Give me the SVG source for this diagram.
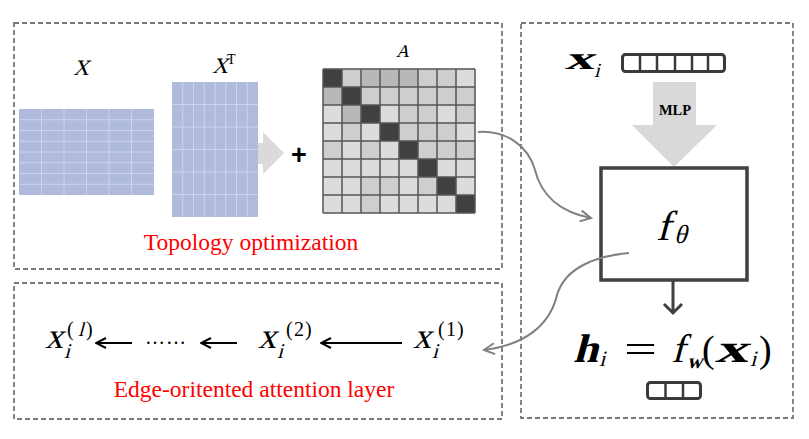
<svg xmlns="http://www.w3.org/2000/svg" width="809" height="439" viewBox="0 0 809 439">
<style>
.frame{fill:none;stroke:#7d7671;stroke-width:1.8;stroke-dasharray:5 3}
.mat{fill:#b0badd}
.mgrid{stroke:#cdd3ec;stroke-width:1;fill:none}
.agrid{stroke:#555;stroke-width:1.5;fill:none}
.d{fill:#404040}.m2{fill:#cecece}.m3{fill:#b8b8b8}
.serif{font-family:"Liberation Serif","Times New Roman",serif}
.b{font-weight:bold}
.red{fill:#ff0000;font-family:"Liberation Serif","Times New Roman",serif;font-size:23.5px}
.vec{fill:#fff;stroke:#3a3a3a;stroke-width:3}
.vdiv{stroke:#3a3a3a;stroke-width:2.5}
.conn{fill:none;stroke:#808080;stroke-width:2}
.blk{fill:none;stroke:#000;stroke-width:2}
</style>
<defs>
<marker id="gchev" viewBox="0 0 14 14" refX="12" refY="7" markerWidth="14" markerHeight="14" orient="auto" markerUnits="userSpaceOnUse">
<path d="M1.5,1.5 L12,7 L1.5,12.5" fill="none" stroke="#808080" stroke-width="2"/>
</marker>
<marker id="bchev" viewBox="0 0 12 12" refX="11" refY="6" markerWidth="12" markerHeight="12" orient="auto" markerUnits="userSpaceOnUse">
<path d="M1,1 L11,6 L1,11" fill="none" stroke="#000" stroke-width="2"/>
</marker>
</defs>
<rect width="809" height="439" fill="#fff"/>

<g id="topology-panel">
<rect class="frame" x="14" y="23" width="488" height="246"/>
<g id="matrix-X">
<text class="serif" transform="translate(73,75) skewX(-15)" font-size="22">X</text>
<rect class="mat" x="19" y="109" width="135" height="86"/>
<path class="mgrid" d="M41.5,109V195M64,109V195M86.5,109V195M109,109V195M131.5,109V195M19,119.75H154M19,130.5H154M19,141.25H154M19,152H154M19,162.75H154M19,173.5H154M19,184.25H154"/>
</g>
<g id="matrix-XT">
<text class="serif" transform="translate(212,73) skewX(-15)" font-size="22">X</text>
<text class="serif" x="227" y="64" font-size="14">T</text>
<rect class="mat" x="172" y="82" width="86" height="135"/>
<path class="mgrid" d="M182.75,82V217M193.5,82V217M204.25,82V217M215,82V217M225.75,82V217M236.5,82V217M247.25,82V217M172,104.5H258M172,127H258M172,149.5H258M172,172H258M172,194.5H258"/>
</g>
<polygon id="gray-arrow" points="258,143 263,143 263,132 284,153 263,174 263,164 258,164" fill="#dadada"/>
<text id="plus" x="299" y="164" font-family="Liberation Sans,Arial,sans-serif" font-size="27" font-weight="bold" text-anchor="middle">+</text>
<g id="matrix-A">
<text class="serif" transform="translate(396,57) skewX(-15)" font-size="18">A</text>
<rect x="323" y="69" width="152" height="144" fill="#dcdcdc"/>
<rect class="d" x="323" y="69" width="19" height="18"/><rect class="m2" x="342" y="69" width="19" height="18"/><rect class="m3" x="361" y="69" width="57" height="18"/><rect class="m2" x="418" y="69" width="38" height="18"/>
<rect class="m3" x="323" y="87" width="19" height="18"/><rect class="d" x="342" y="87" width="19" height="18"/><rect class="m2" x="361" y="87" width="114" height="18"/>
<rect class="m3" x="342" y="105" width="19" height="18"/><rect class="d" x="361" y="105" width="19" height="18"/><rect class="m2" x="399" y="105" width="38" height="18"/><rect class="m2" x="456" y="105" width="19" height="18"/>
<rect class="m2" x="342" y="123" width="19" height="18"/><rect class="d" x="380" y="123" width="19" height="18"/><rect class="m2" x="399" y="123" width="57" height="18"/>
<rect class="m2" x="323" y="141" width="19" height="18"/><rect class="m2" x="361" y="141" width="19" height="18"/><rect class="d" x="399" y="141" width="19" height="18"/><rect class="m2" x="418" y="141" width="57" height="18"/>
<rect class="d" x="418" y="159" width="19" height="18"/>
<rect class="m2" x="361" y="177" width="38" height="18"/><rect class="m2" x="418" y="177" width="19" height="18"/><rect class="d" x="437" y="177" width="19" height="18"/>
<rect class="m2" x="361" y="195" width="19" height="18"/><rect class="d" x="456" y="195" width="19" height="18"/>
<path class="agrid" d="M323,69V213M342,69V213M361,69V213M380,69V213M399,69V213M418,69V213M437,69V213M456,69V213M475,69V213M323,69H475M323,87H475M323,105H475M323,123H475M323,141H475M323,159H475M323,177H475M323,195H475M323,213H475"/>
</g>
<text class="red" x="251" y="250" text-anchor="middle">Topology optimization</text>
</g>

<g id="attention-panel">
<rect class="frame" x="14" y="283" width="488" height="136"/>
<g id="x-l">
<text class="serif" transform="translate(45,348) skewX(-15)" font-size="36">x</text>
<text class="serif" transform="translate(64,358) skewX(-15)" font-size="21">i</text>
<text class="serif" x="67" y="336" font-size="20">(</text>
<text class="serif" transform="translate(78,336) skewX(-15)" font-size="20">l</text>
<text class="serif" x="86" y="336" font-size="20">)</text>
</g>
<text id="dots" class="serif" x="145" y="344" font-size="20" letter-spacing="1">……</text>
<g id="x-2">
<text class="serif" transform="translate(258,348) skewX(-15)" font-size="36">x</text>
<text class="serif" transform="translate(277,358) skewX(-15)" font-size="21">i</text>
<text class="serif" y="336" font-size="20"><tspan x="286">(</tspan><tspan x="294">2</tspan><tspan x="305">)</tspan></text>
</g>
<g id="x-1">
<text class="serif" transform="translate(413,348) skewX(-15)" font-size="36">x</text>
<text class="serif" transform="translate(432,358) skewX(-15)" font-size="21">i</text>
<text class="serif" y="336" font-size="20"><tspan x="438">(</tspan><tspan x="446">1</tspan><tspan x="457">)</tspan></text>
</g>
<text class="red" x="254" y="397" text-anchor="middle">Edge-oritented attention layer</text>
</g>

<g id="mlp-panel">
<rect class="frame" x="521" y="23" width="272" height="395"/>
<g id="x-i">
<text class="serif b" transform="translate(565,69) skewX(-15)" font-size="32" textLength="29" lengthAdjust="spacingAndGlyphs">x</text>
<text class="serif" transform="translate(594,77) skewX(-15)" font-size="20">i</text>
</g>
<g id="vec-top">
<rect class="vec" x="622.5" y="54.5" width="102" height="17" rx="3"/>
<path class="vdiv" d="M640,55V71M657,55V71M675,55V71M692,55V71M708,55V71"/>
</g>
<g id="mlp-arrow">
<polygon points="653,82 696,82 696,125 717,125 674,167 632,125 653,125" fill="#d9d9d9"/>
<text class="serif" x="675" y="115" font-size="14.5" font-weight="bold" text-anchor="middle">MLP</text>
</g>
<g id="f-theta">
<rect x="601" y="168" width="146" height="112" fill="#fff" stroke="#404040" stroke-width="3.5"/>
<text class="serif" transform="translate(656,240) skewX(-15)" font-size="42">f</text>
<text class="serif" transform="translate(674,243) skewX(-15)" font-size="26">θ</text>
</g>
<g id="down-arrow">
<path d="M673,281V313M664,304L673,313L682,304" fill="none" stroke="#404040" stroke-width="3"/>
</g>
<g id="h-eq">
<text class="serif b" transform="translate(573,362) skewX(-15)" font-size="40" textLength="25" lengthAdjust="spacingAndGlyphs">h</text>
<text class="serif" transform="translate(599,366) skewX(-15)" font-size="22">i</text>
<text class="serif" x="624" y="363" font-size="40" textLength="33" lengthAdjust="spacingAndGlyphs">=</text>
<text class="serif" transform="translate(671,362) skewX(-15)" font-size="40">f</text>
<text class="serif b" transform="translate(687,368) skewX(-15)" font-size="21">w</text>
<text class="serif" x="702" y="362" font-size="38">(</text>
<text class="serif b" transform="translate(715,362) skewX(-15)" font-size="40" textLength="33" lengthAdjust="spacingAndGlyphs">x</text>
<text class="serif" transform="translate(750,366) skewX(-15)" font-size="22">i</text>
<text class="serif" x="759" y="362" font-size="38">)</text>
</g>
<g id="vec-bottom">
<rect class="vec" x="647.5" y="382.5" width="53" height="16" rx="3"/>
<path class="vdiv" d="M665.5,383V398M683,383V398"/>
</g>
</g>

<g id="connectors">
<path class="conn" d="M478,132 C505,130 528,145 535,170 C541,195 560,212 591,218" marker-end="url(#gchev)"/>
<path class="conn" d="M629,253 C595,256 565,268 557,295 C550,325 525,345 484,350" marker-end="url(#gchev)"/>
<path class="blk" d="M132,343H96" marker-end="url(#bchev)"/>
<path class="blk" d="M237,343H201" marker-end="url(#bchev)"/>
<path class="blk" d="M402,343H321" marker-end="url(#bchev)"/>
</g>
</svg>
